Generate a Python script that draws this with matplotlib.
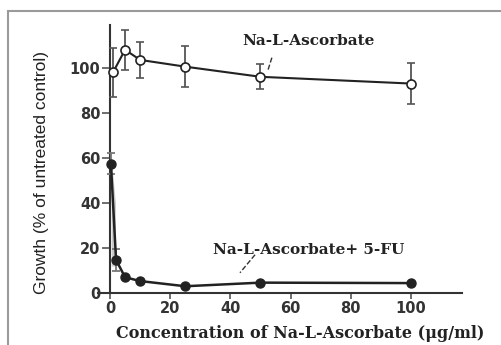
import numpy as np
import matplotlib
matplotlib.use("Agg")
import matplotlib.pyplot as plt
from matplotlib.patches import Rectangle

# Na-L-Ascorbate alone (open circles)
asc_x = [1, 5, 10, 25, 50, 100]
asc_y = [98, 108, 103.5, 100.5, 96, 93]
asc_err = [11, 9, 8, 9, 5.5, 9]

# Na-L-Ascorbate + 5-FU (filled circles)
fu_x = [0.3, 2, 5, 10, 25, 50, 100]
fu_y = [57.5, 14.7, 7, 5.3, 3, 4.6, 4.4]
fu_err = [4.5, 5, 0, 0, 0, 0, 0]

xticks = [0, 20, 40, 60, 80, 100]
yticks = [0, 20, 40, 60, 80, 100]

serif = "DejaVu Serif"
sans = "DejaVu Sans"

fig = plt.figure(figsize=(5.02, 3.45), dpi=100)
ax = fig.add_axes([98/502, 52/345, 364/502, 268/345])

# scan frame
fig.patches.append(Rectangle((8.5/502, -0.1), 1.2, (345-10.5)/345 + 0.1, transform=fig.transFigure,
                             fill=False, edgecolor='#9a9a9a', lw=1.5))

ax.errorbar(asc_x, asc_y, yerr=asc_err, color='#222222', lw=1.5, marker='o', ms=6.5,
            mfc='white', mec='#222222', mew=1.2, ecolor='#555555', elinewidth=1.3,
            capsize=3, capthick=1.3, clip_on=False, zorder=3)
ax.errorbar(fu_x, fu_y, yerr=fu_err, color='#222222', lw=1.8, marker='o', ms=6.5,
            mfc='#222222', mec='#222222', ecolor='#777777', elinewidth=1.3,
            capsize=3, capthick=1.3, clip_on=False, zorder=3)
# grey smear of overlapping error bars near zero
ax.fill_between([0.4, 1.8], [12, 12], [60, 40], color='#999999', alpha=0.5, lw=0, zorder=2)

ax.set_xlim(-4, 117)
ax.set_ylim(0, 119)
ax.spines['left'].set_position(('data', 0))
ax.spines['right'].set_visible(False)
ax.spines['top'].set_visible(False)
for s in ['left', 'bottom']:
    ax.spines[s].set_linewidth(1.5)
    ax.spines[s].set_color('#333333')

ax.set_xticks(xticks)
ax.set_yticks(yticks)
ax.tick_params(axis='y', direction='out', length=6, width=1.2, color='#555555', pad=1)
ax.tick_params(axis='x', direction='out', length=4, width=1.2, color='#555555', pad=2)
for lab in ax.get_xticklabels() + ax.get_yticklabels():
    lab.set_fontfamily(sans)
    lab.set_fontweight('bold')
    lab.set_fontsize(10.5)
    lab.set_color('#333333')

ax.set_xlabel('Concentration of Na-L-Ascorbate (\u03bcg/ml)', family=serif, fontweight='bold',
              fontsize=11.5, color='#222222')
ax.xaxis.set_label_coords(0.555, -0.12)
fig.text(42/502, 1 - 172/345, 'Growth (% of untreated control)', rotation=90, ha='center',
         va='center', family='Liberation Sans', fontsize=12.5, color='#222222')

ax.text(66, 112, 'Na-L-Ascorbate', family=serif, fontweight='bold', fontsize=11,
        ha='center', va='center', color='#222222')
ax.plot([53.8, 52.5], [104.5, 99], ls='--', color='#333333', lw=1)

ax.text(66, 19, 'Na-L-Ascorbate+ 5-FU', family=serif, fontweight='bold', fontsize=11,
        ha='center', va='center', color='#222222')
ax.plot([48.2, 43.2], [17, 9], ls='--', color='#333333', lw=1)

fig.savefig('out.png', dpi=100)
